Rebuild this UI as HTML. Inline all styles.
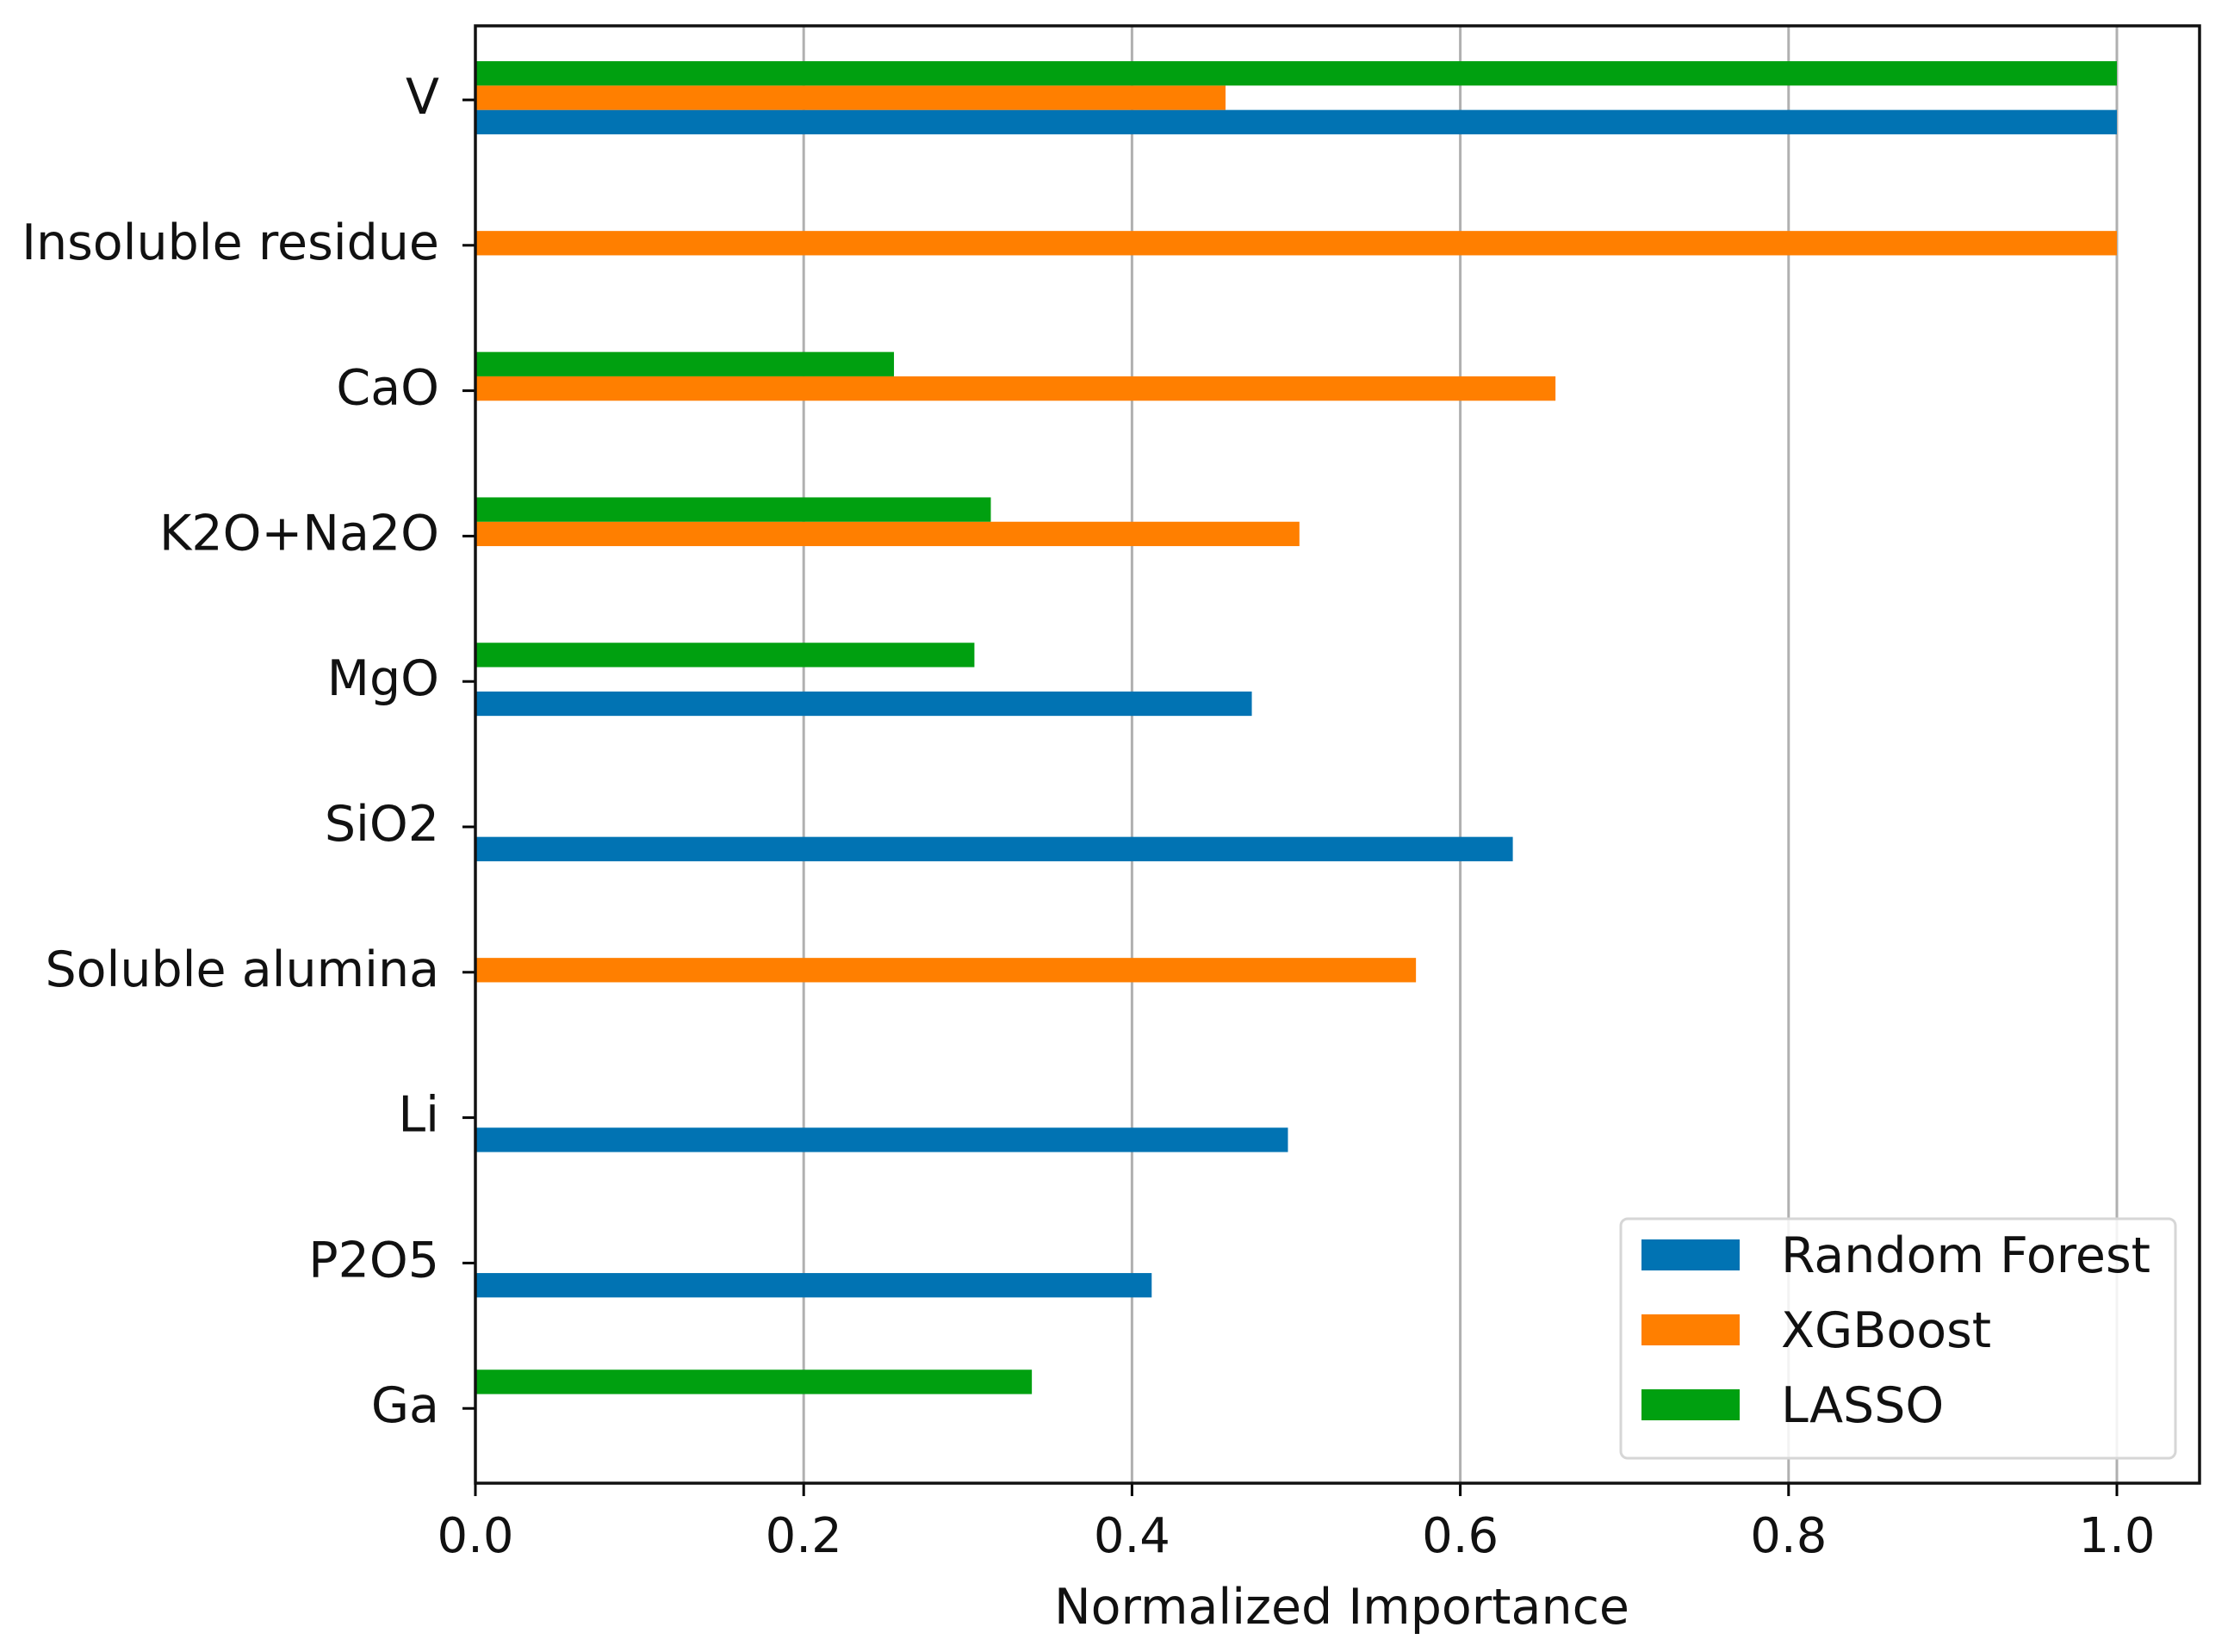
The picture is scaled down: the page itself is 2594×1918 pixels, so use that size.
<!DOCTYPE html>
<html><head><meta charset="utf-8"><style>
html,body{margin:0;padding:0;background:#fff;}
svg{display:block;font-family:"DejaVu Sans","Liberation Sans",sans-serif;}
</style></head><body>
<svg id="chart" width="2594" height="1918" viewBox="0 0 2594 1918" xmlns="http://www.w3.org/2000/svg">
<rect width="2594" height="1918" fill="#fff"/>
<g id="grid"></g>
<g id="bars"></g>
<g id="axes"></g>
<g id="legend"></g>
</svg>
<script>
const categories = ["V","Insoluble residue","CaO","K2O+Na2O","MgO","SiO2","Soluble alumina","Li","P2O5","Ga"];
const seriesNames = ["Random Forest","XGBoost","LASSO"];
const rfValues    = [1.0, 0, 0, 0, 0.473, 0.632, 0, 0.495, 0.412, 0];
const xgbValues   = [0.457, 1.0, 0.658, 0.502, 0, 0, 0.573, 0, 0, 0];
const lassoValues = [1.0, 0, 0.255, 0.314, 0.304, 0, 0, 0, 0, 0.339];
const xTicks = [0.0, 0.2, 0.4, 0.6, 0.8, 1.0];
const xTickLabels = ["0.0","0.2","0.4","0.6","0.8","1.0"];

const NS="http://www.w3.org/2000/svg";
const L=552, R=2554, T=30, B=1722;
const colors=["#0173B3","#FF7F00","#00A010"];
function xs(v){return L+v*1906;}
function ys(i){return 116+i*168.8;}
const barH=28.3;
function mk(tag,attrs,parent,text){const e=document.createElementNS(NS,tag);for(const k in attrs)e.setAttribute(k,attrs[k]);if(text!==undefined)e.textContent=text;parent.appendChild(e);return e;}
const grid=document.getElementById('grid'),bars=document.getElementById('bars'),axes=document.getElementById('axes'),legend=document.getElementById('legend');

xTicks.forEach((t,i)=>{
  const g=mk('line',{x1:xs(t),x2:xs(t),y1:T,y2:B,stroke:'#b0b0b0','stroke-width':3},grid);
  
  
  const tk=mk('line',{x1:xs(t),x2:xs(t),y1:B,y2:B+15,stroke:'#000','stroke-width':3},axes);
  
  
  const tl=mk('text',{x:xs(t),y:1802,'font-size':56,'text-anchor':'middle',fill:'#111'},axes,xTickLabels[i]);
  
  
});

const series=[rfValues,xgbValues,lassoValues];
const offs=[1,0,-1];
categories.forEach((c,i)=>{
  series.forEach((vals,s)=>{
    const v=vals[i];
    if(!v)return;
    const cy=ys(i)+offs[s]*barH-2.5;
    const r=mk('rect',{x:xs(0),y:cy-barH/2,width:xs(v)-xs(0),height:barH,fill:colors[s]},bars);
    
    
  });
  const tk=mk('line',{x1:L-15,x2:L,y1:ys(i),y2:ys(i),stroke:'#000','stroke-width':3},axes);
  
  
  const tl=mk('text',{x:L-42,y:ys(i)+16,'font-size':57,'text-anchor':'end',fill:'#111'},axes,c);
  
  
});

const frame=mk('rect',{x:L,y:T,width:R-L,height:B-T,fill:'none',stroke:'#111','stroke-width':3.5},axes);


const xl=mk('text',{x:1558,y:1885,'font-size':57,'text-anchor':'middle',fill:'#111'},axes,'Normalized Importance');



const lb=mk('rect',{x:1882,y:1415,width:644,height:278,rx:8,fill:'#fff','fill-opacity':0.85,stroke:'#d6d6d6','stroke-width':3},legend);


seriesNames.forEach((n,s)=>{
  const cy=1457+s*87;
  const h=mk('rect',{x:1906,y:cy-18,width:114,height:36,fill:colors[s]},legend);
  
  
  const t=mk('text',{x:2068,y:cy+20,'font-size':57,fill:'#111'},legend,n);
  
  
});
</script>
</body></html>
